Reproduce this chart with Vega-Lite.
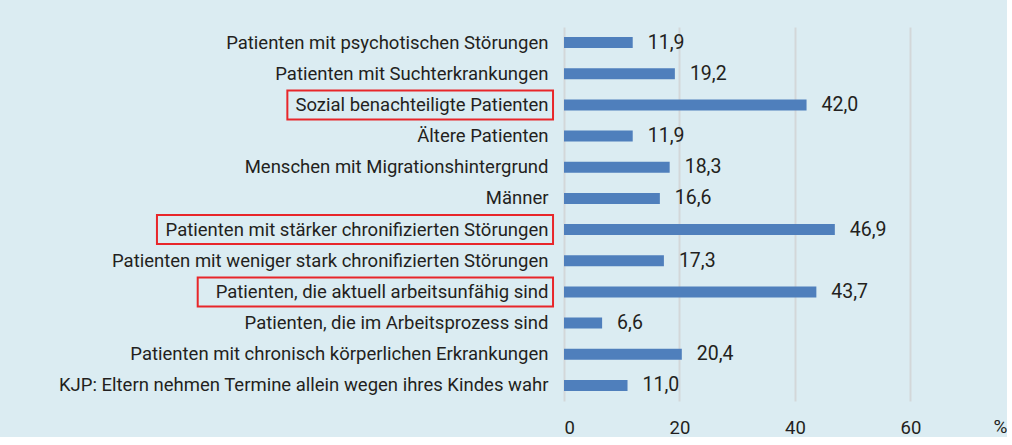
{
  "$schema": "https://vega.github.io/schema/vega-lite/v6.json",
  "width": 436,
  "height": 374,
  "autosize": {"type": "pad"},
  "padding": {"left": 4, "top": 27, "right": 0, "bottom": 0},
  "background": "#dbecf2",
  "config": {
    "view": {"stroke": null},
    "font": "Roboto",
    "locale": {"number": {"decimal": ",", "thousands": ".", "grouping": [3], "currency": ["", " €"]}}
  },
  "data": {
    "values": [
      {"label": "Patienten mit psychotischen Störungen", "value": 11.9, "highlight": false},
      {"label": "Patienten mit Suchterkrankungen", "value": 19.2, "highlight": false},
      {"label": "Sozial benachteiligte Patienten", "value": 42.0, "highlight": true},
      {"label": "Ältere Patienten", "value": 11.9, "highlight": false},
      {"label": "Menschen mit Migrationshintergrund", "value": 18.3, "highlight": false},
      {"label": "Männer", "value": 16.6, "highlight": false},
      {"label": "Patienten mit stärker chronifizierten Störungen", "value": 46.9, "highlight": true},
      {"label": "Patienten mit weniger stark chronifizierten Störungen", "value": 17.3, "highlight": false},
      {"label": "Patienten, die aktuell arbeitsunfähig sind", "value": 43.7, "highlight": true},
      {"label": "Patienten, die im Arbeitsprozess sind", "value": 6.6, "highlight": false},
      {"label": "Patienten mit chronisch körperlichen Erkrankungen", "value": 20.4, "highlight": false},
      {"label": "KJP: Eltern nehmen Termine allein wegen ihres Kindes wahr", "value": 11.0, "highlight": false}
    ]
  },
  "encoding": {
    "y": {
      "field": "label", "type": "nominal", "sort": null,
      "scale": {"paddingInner": 0, "paddingOuter": 0},
      "axis": {
        "title": null, "ticks": false, "domain": false, "grid": false,
        "labelPadding": 16, "labelLimit": 0, "labelFontSize": 18.5,
        "labelColor": "#231f20", "minExtent": 560, "maxExtent": 560
      }
    }
  },
  "layer": [
    {
      "mark": {"type": "bar", "color": "#4f7fbc", "size": 11},
      "encoding": {
        "x": {
          "field": "value", "type": "quantitative",
          "scale": {"domain": [0, 75.5], "nice": false},
          "axis": {
            "values": [0, 20, 40, 60], "grid": true, "gridColor": "#d3d7d9", "gridWidth": 2,
            "domain": false, "ticks": false, "labelPadding": 17, "labelFontSize": 18.5,
            "labelColor": "#231f20", "format": "d",
            "title": "%", "titleAngle": 0, "titleAnchor": "end", "titleAlign": "center",
            "titleBaseline": "middle", "titleX": 436, "titleY": 25, "titleFontWeight": "normal",
            "titleFontSize": 19, "titleColor": "#231f20"
          }
        }
      }
    },
    {
      "mark": {"type": "text", "align": "left", "baseline": "middle", "dx": 15, "fontSize": 19.5, "color": "#231f20"},
      "encoding": {
        "x": {"field": "value", "type": "quantitative"},
        "text": {"field": "value", "type": "quantitative", "format": ".1f"}
      }
    },
    {
      "transform": [
        {"filter": "datum.highlight"},
        {"calculate": "-(24 + 8.15 * length(datum.label)) / 5.775", "as": "boxStart"}
      ],
      "mark": {"type": "rect", "fill": null, "stroke": "#e8262a", "strokeWidth": 2, "height": 29},
      "encoding": {
        "x": {"field": "boxStart", "type": "quantitative"},
        "x2": {"datum": -1.9}
      }
    }
  ]
}
